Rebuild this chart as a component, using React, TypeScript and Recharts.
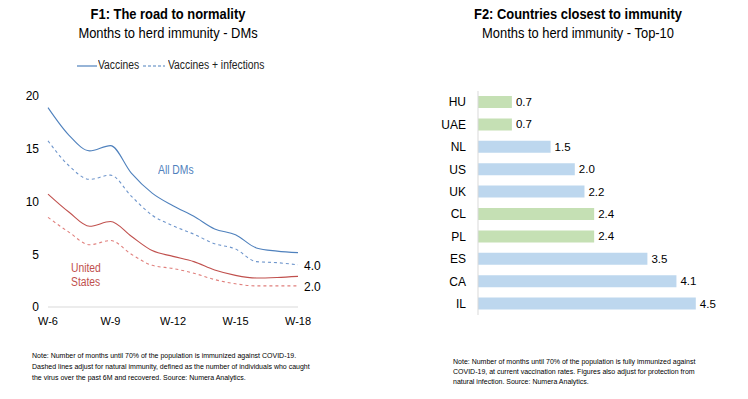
import { LineChart, Line, XAxis, YAxis, BarChart, Bar, Cell, LabelList } from 'recharts';

const weeks = ['W-6', 'W-7', 'W-8', 'W-9', 'W-10', 'W-11', 'W-12', 'W-13', 'W-14', 'W-15', 'W-16', 'W-17', 'W-18'];
const weekTicks = ['W-6', 'W-9', 'W-12', 'W-15', 'W-18'];
const dmVaccines = [18.9, 16.3, 14.8, 15.3, 12.7, 10.8, 9.6, 8.6, 7.4, 6.85, 5.6, 5.3, 5.15];
const dmVaccInf = [15.75, 13.4, 12.1, 12.5, 10.5, 8.7, 7.7, 6.9, 6.0, 5.5, 4.3, 4.2, 4.0];
const usVaccines = [10.7, 9.0, 7.65, 8.1, 6.7, 5.35, 4.8, 4.3, 3.5, 3.0, 2.75, 2.8, 2.9];
const usVaccInf = [8.5, 7.1, 5.9, 6.3, 5.0, 3.95, 3.65, 3.2, 2.6, 2.2, 2.0, 2.0, 2.0];

const countries = ['HU', 'UAE', 'NL', 'US', 'UK', 'CL', 'PL', 'ES', 'CA', 'IL'];
const monthsToImmunity = [0.7, 0.7, 1.5, 2.0, 2.2, 2.4, 2.4, 3.5, 4.1, 4.5];
const greenCountries = ['HU', 'UAE', 'CL', 'PL'];

const lineData = weeks.map((w, i) => ({
  week: w,
  dm: dmVaccines[i],
  dmInf: dmVaccInf[i],
  us: usVaccines[i],
  usInf: usVaccInf[i],
}));

const barData = countries.map((c, i) => ({ country: c, value: monthsToImmunity[i] }));

const BLUE = '#4f81bd';
const BLUE_DASH = '#6f96cc';
const RED = '#c0504d';
const RED_DASH = '#e07f7c';
const FONT = '"Liberation Sans Narrow", "Arial Narrow", "Liberation Sans", Arial, sans-serif';

const endLabel = (props: any) => {
  const { x, y, value, index } = props;
  if (index !== weeks.length - 1) return null;
  return (
    <text x={x + 6} y={y + 5} fontSize={12} fill="#000" fontFamily={FONT}>
      {Number(value).toFixed(1)}
    </text>
  );
};

const abs = (left: number, top: number, extra: any = {}) => ({ position: 'absolute' as const, left, top, ...extra });
// narrow look for html text
const narrow = (origin = 'center') => ({ transform: 'scaleX(0.86)', transformOrigin: origin, whiteSpace: 'nowrap' as const });

export default function App() {
  return (
    <div style={{ position: 'absolute', left: 0, top: 0, width: 748, height: 399, background: '#fff', fontFamily: FONT, color: '#000' }}>
      {/* titles */}
      <div style={abs(0, 5, { width: 336, textAlign: 'center', fontSize: 15, fontWeight: 'bold', lineHeight: '18px', ...narrow() })}>F1: The road to normality</div>
      <div style={abs(0, 24, { width: 336, textAlign: 'center', fontSize: 15, lineHeight: '18px', ...narrow() })}>Months to herd immunity - DMs</div>
      <div style={abs(400, 5, { width: 356, textAlign: 'center', fontSize: 15, fontWeight: 'bold', lineHeight: '18px', ...narrow() })}>F2: Countries closest to immunity</div>
      <div style={abs(400, 24, { width: 356, textAlign: 'center', fontSize: 15, lineHeight: '18px', ...narrow() })}>Months to herd immunity - Top-10</div>

      {/* legend */}
      <svg style={abs(77, 60)} width={90} height={12}>
        <line x1={0} y1={6} x2={20} y2={6} stroke={BLUE} strokeWidth={1.2} />
        <line x1={66} y1={6} x2={88} y2={6} stroke={BLUE} strokeWidth={1} strokeDasharray="3 2" />
      </svg>
      <div style={abs(98, 58, { fontSize: 12, lineHeight: '15px', color: '#222', ...narrow('left') })}>Vaccines</div>
      <div style={abs(168, 58, { fontSize: 12, lineHeight: '15px', color: '#222', ...narrow('left') })}>Vaccines + infections</div>

      <div style={abs(0, 80)}>
        <LineChart width={340} height={260} data={lineData} margin={{ top: 16, right: 42, bottom: 0, left: 0 }}>
          <XAxis dataKey="week" ticks={weekTicks} interval={0} tickLine={false} axisLine={{ stroke: '#d9d9d9' }} height={33} tickMargin={4}
            tick={{ fontSize: 11, fill: '#000', fontFamily: FONT }} />
          <YAxis domain={[0, 20]} ticks={[0, 5, 10, 15, 20]} axisLine={false} tickLine={false} width={48} tickMargin={3}
            tick={{ fontSize: 12, fill: '#000', fontFamily: FONT }} />
          <Line type="monotone" dataKey="dm" stroke={BLUE} strokeWidth={1.1} dot={false} isAnimationActive={false} />
          <Line type="monotone" dataKey="dmInf" stroke={BLUE_DASH} strokeWidth={1.1} strokeDasharray="3 3" dot={false} isAnimationActive={false}>
            <LabelList dataKey="dmInf" content={endLabel} />
          </Line>
          <Line type="monotone" dataKey="us" stroke={RED} strokeWidth={1.1} dot={false} isAnimationActive={false} />
          <Line type="monotone" dataKey="usInf" stroke={RED_DASH} strokeWidth={1.1} strokeDasharray="3 3" dot={false} isAnimationActive={false}>
            <LabelList dataKey="usInf" content={endLabel} />
          </Line>
        </LineChart>
      </div>
      <div style={abs(158, 163, { fontSize: 12, color: BLUE, lineHeight: '15px', ...narrow('left') })}>All DMs</div>
      <div style={abs(71, 261, { fontSize: 12, color: RED, lineHeight: '14px', ...narrow('left') })}>United<br />States</div>

      <div style={abs(440, 80)}>
        <BarChart width={300} height={250} data={barData} layout="vertical" margin={{ top: 11, right: 20, bottom: 15, left: 0 }}>
          <XAxis type="number" domain={[0, 5]} hide />
          <YAxis type="category" dataKey="country" width={38} tickLine={false} axisLine={{ stroke: '#d9d9d9' }} tickMargin={6}
            tick={{ fontSize: 12, fill: '#000', fontFamily: FONT }} />
          <Bar dataKey="value" barSize={12} isAnimationActive={false}>
            {barData.map((d) => (
              <Cell key={d.country} fill={greenCountries.includes(d.country) ? '#c5e0b4' : '#bdd7ee'} />
            ))}
            <LabelList dataKey="value" position="right" offset={4} formatter={(v: any) => Number(v).toFixed(1)}
              style={{ fontSize: 11.5, fill: '#000', fontFamily: FONT }} />
          </Bar>
        </BarChart>
      </div>

      {/* notes */}
      <div style={abs(32, 350, { fontSize: 7, lineHeight: '11px', width: 300 })}>
        Note: Number of months until 70% of the population is immunized against COVID-19.<br />
        Dashed lines adjust for natural immunity, defined as the number of individuals who caught<br />
        the virus over the past 6M and recovered. Source: Numera Analytics.
      </div>
      <div style={abs(453, 357, { fontSize: 7, lineHeight: '10px', width: 300 })}>
        Note: Number of months until 70% of the population is fully immunized against<br />
        COVID-19, at current vaccination rates. Figures also adjust for protection from<br />
        natural infection. Source: Numera Analytics.
      </div>
    </div>
  );
}
